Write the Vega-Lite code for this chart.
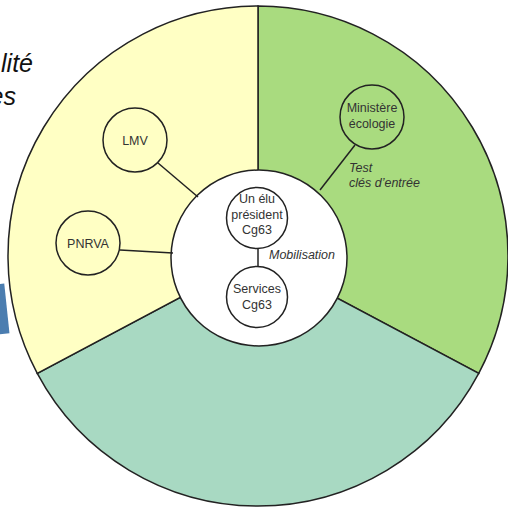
{
  "$schema": "https://vega.github.io/schema/vega-lite/v6.json",
  "width": 508,
  "height": 512,
  "padding": 0,
  "autosize": {"type": "none"},
  "background": "white",
  "config": {"view": {"stroke": null}, "text": {"font": "Liberation Sans"}},
  "layer": [
    {
      "data": {"values": [
        {"sector": "Test", "angle": 118, "ord": 1, "cx": 258, "cy": 256},
        {"sector": "Bas", "angle": 124, "ord": 2, "cx": 258, "cy": 256},
        {"sector": "Gauche", "angle": 118, "ord": 3, "cx": 258, "cy": 256}
      ]},
      "mark": {"type": "arc", "outerRadius": 250, "stroke": "#222222", "strokeWidth": 1.5},
      "encoding": {
        "theta": {"field": "angle", "type": "quantitative", "stack": true},
        "order": {"field": "ord", "type": "quantitative"},
        "x": {"field": "cx", "type": "quantitative", "scale": {"domain": [0, 508]}, "axis": null},
        "y": {"field": "cy", "type": "quantitative", "scale": {"domain": [0, 512], "reverse": true}, "axis": null},
        "color": {"field": "sector", "type": "nominal", "legend": null,
          "scale": {"domain": ["Test", "Bas", "Gauche"], "range": ["#a9db7f", "#a8d9c2", "#ffffc4"]}}
      }
    },
    {
      "data": {"values": [{"x": 259, "y": 258}]},
      "mark": {"type": "point", "shape": "circle", "size": 30976, "filled": true, "fill": "white", "stroke": "#222222", "strokeWidth": 1.5, "opacity": 1},
      "encoding": {
        "x": {"field": "x", "type": "quantitative", "scale": {"domain": [0, 508]}, "axis": null},
        "y": {"field": "y", "type": "quantitative", "scale": {"domain": [0, 512], "reverse": true}, "axis": null}
      }
    },
    {
      "data": {"values": [
        {"x": 258, "y": 248, "x2": 258, "y2": 266},
        {"x": 355, "y": 145, "x2": 320, "y2": 190},
        {"x": 158, "y": 163, "x2": 198, "y2": 197},
        {"x": 120, "y": 250, "x2": 173, "y2": 253}
      ]},
      "mark": {"type": "rule", "color": "#222222", "strokeWidth": 1.5},
      "encoding": {
        "x": {"field": "x", "type": "quantitative", "scale": {"domain": [0, 508]}, "axis": null},
        "y": {"field": "y", "type": "quantitative", "scale": {"domain": [0, 512], "reverse": true}, "axis": null},
        "x2": {"field": "x2"},
        "y2": {"field": "y2"}
      }
    },
    {
      "data": {"values": [
        {"x": 257, "y": 218},
        {"x": 257, "y": 297}
      ]},
      "mark": {"type": "point", "shape": "circle", "size": 3721, "filled": false, "color": "#222222", "strokeWidth": 1.5, "opacity": 1},
      "encoding": {
        "x": {"field": "x", "type": "quantitative", "scale": {"domain": [0, 508]}, "axis": null},
        "y": {"field": "y", "type": "quantitative", "scale": {"domain": [0, 512], "reverse": true}, "axis": null}
      }
    },
    {
      "data": {"values": [
        {"x": 372, "y": 117},
        {"x": 135, "y": 140},
        {"x": 88, "y": 243}
      ]},
      "mark": {"type": "point", "shape": "circle", "size": 4096, "filled": false, "color": "#222222", "strokeWidth": 1.5, "opacity": 1},
      "encoding": {
        "x": {"field": "x", "type": "quantitative", "scale": {"domain": [0, 508]}, "axis": null},
        "y": {"field": "y", "type": "quantitative", "scale": {"domain": [0, 512], "reverse": true}, "axis": null}
      }
    },
    {
      "data": {"values": [
        {"x": 257, "y": 199, "label": "Un élu\nprésident\nCg63"},
        {"x": 257, "y": 289, "label": "Services\nCg63"},
        {"x": 372, "y": 108, "label": "Ministère\nécologie"},
        {"x": 135, "y": 141, "label": "LMV"},
        {"x": 88, "y": 244, "label": "PNRVA"}
      ]},
      "mark": {"type": "text", "fontSize": 12.5, "color": "#333333", "lineBreak": "\n", "lineHeight": 15.5, "align": "center", "baseline": "middle"},
      "encoding": {
        "x": {"field": "x", "type": "quantitative", "scale": {"domain": [0, 508]}, "axis": null},
        "y": {"field": "y", "type": "quantitative", "scale": {"domain": [0, 512], "reverse": true}, "axis": null},
        "text": {"field": "label"}
      }
    },
    {
      "data": {"values": [
        {"x": 302, "y": 255, "label": "Mobilisation"}
      ]},
      "mark": {"type": "text", "fontSize": 12.5, "fontStyle": "italic", "color": "#333333", "align": "center", "baseline": "middle"},
      "encoding": {
        "x": {"field": "x", "type": "quantitative", "scale": {"domain": [0, 508]}, "axis": null},
        "y": {"field": "y", "type": "quantitative", "scale": {"domain": [0, 512], "reverse": true}, "axis": null},
        "text": {"field": "label"}
      }
    },
    {
      "data": {"values": [
        {"x": 349, "y": 168, "label": "Test"},
        {"x": 349, "y": 183, "label": "clés d’entrée"}
      ]},
      "mark": {"type": "text", "fontSize": 12.5, "fontStyle": "italic", "color": "#333333", "align": "left", "baseline": "middle"},
      "encoding": {
        "x": {"field": "x", "type": "quantitative", "scale": {"domain": [0, 508]}, "axis": null},
        "y": {"field": "y", "type": "quantitative", "scale": {"domain": [0, 512], "reverse": true}, "axis": null},
        "text": {"field": "label"}
      }
    },
    {
      "data": {"values": [{"x": -18, "y": 311}]},
      "mark": {"type": "point", "shape": "square", "size": 2500, "angle": -6, "filled": true, "color": "#4b7db0", "opacity": 1},
      "encoding": {
        "x": {"field": "x", "type": "quantitative", "scale": {"domain": [0, 508]}, "axis": null},
        "y": {"field": "y", "type": "quantitative", "scale": {"domain": [0, 512], "reverse": true}, "axis": null}
      }
    },
    {
      "data": {"values": [
        {"x": 33, "y": 72, "label": "lité"},
        {"x": 16, "y": 105, "label": "es"}
      ]},
      "mark": {"type": "text", "fontSize": 25, "fontStyle": "italic", "color": "#111111", "align": "right", "baseline": "alphabetic"},
      "encoding": {
        "x": {"field": "x", "type": "quantitative", "scale": {"domain": [0, 508]}, "axis": null},
        "y": {"field": "y", "type": "quantitative", "scale": {"domain": [0, 512], "reverse": true}, "axis": null},
        "text": {"field": "label"}
      }
    }
  ]
}
